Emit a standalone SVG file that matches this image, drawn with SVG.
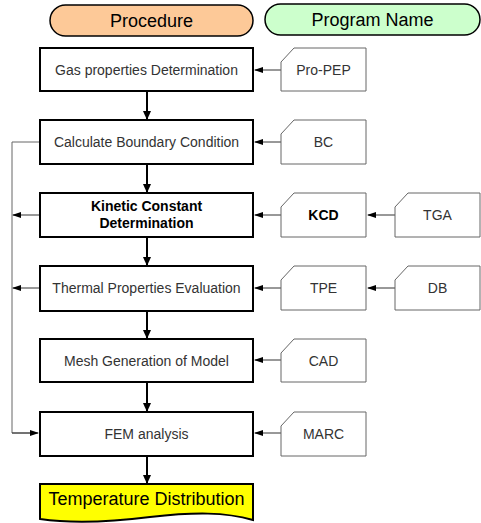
<svg xmlns="http://www.w3.org/2000/svg" width="481" height="523" viewBox="0 0 481 523">
<style>
.box{fill:#fff;stroke:#000;stroke-width:2}
.card{fill:#fff;stroke:#666;stroke-width:1}
.t{font-family:"Liberation Sans",Arial,sans-serif;font-size:14px;fill:#333;text-anchor:middle}
.b{font-weight:bold;fill:#000}
.h{font-family:"Liberation Sans",Arial,sans-serif;font-size:18px;fill:#000;text-anchor:middle}
.down{stroke:#000;stroke-width:2;fill:none;marker-end:url(#ab)}
.side{stroke:#333;stroke-width:1;fill:none;marker-end:url(#as)}
.fb{stroke:#666;stroke-width:1;fill:none}
</style>
<defs>
<marker id="ab" markerWidth="10" markerHeight="10" refX="8" refY="5" orient="auto" markerUnits="userSpaceOnUse"><path d="M0,1 L9,5 L0,9 Z" fill="#000"/></marker>
<marker id="as" markerWidth="10" markerHeight="10" refX="8" refY="4" orient="auto" markerUnits="userSpaceOnUse"><path d="M0,1 L9,4 L0,7 Z" fill="#000"/></marker>
</defs>
<rect width="481" height="523" fill="#fff"/>

<g id="hdr-procedure">
<rect x="50" y="5" width="203" height="31" rx="15.5" fill="#fdc998" stroke="#000" stroke-width="1.5"/>
<text class="h" x="151.5" y="26.5">Procedure</text>
</g>
<g id="hdr-program">
<rect x="265" y="4" width="215" height="31" rx="15.5" fill="#ccffcc" stroke="#000" stroke-width="1.5"/>
<text class="h" x="372.5" y="25.5">Program Name</text>
</g>

<g id="connectors">
<path class="down" d="M147,92 V119"/>
<path class="down" d="M147,164 V192"/>
<path class="down" d="M147,238 V265"/>
<path class="down" d="M147,312 V338"/>
<path class="down" d="M147,383 V411"/>
<path class="down" d="M147,457 V483"/>
<path class="side" d="M281,70 H255"/>
<path class="side" d="M281,142 H255"/>
<path class="side" d="M281,215 H255"/>
<path class="side" d="M395,215 H368"/>
<path class="side" d="M281,288 H255"/>
<path class="side" d="M395,288 H368"/>
<path class="side" d="M281,360 H255"/>
<path class="side" d="M281,433 H255"/>
<path class="fb" d="M40,142 H12 V433 H30"/>
<path class="side" d="M12,433 H38"/>
<path class="side" d="M40,215 H13"/>
<path class="side" d="M40,288 H13"/>
</g>

<g id="gas">
<rect class="box" x="40" y="48" width="213" height="43"/>
<text class="t" x="146.5" y="74.5">Gas properties Determination</text>
</g>
<g id="bc-step">
<rect class="box" x="40" y="120" width="213" height="44"/>
<text class="t" x="146.5" y="147">Calculate Boundary Condition</text>
</g>
<g id="kcd-step">
<rect class="box" x="40" y="193" width="213" height="44"/>
<text class="t b" x="146.5" y="211">Kinetic Constant</text>
<text class="t b" x="146.5" y="228">Determination</text>
</g>
<g id="tpe-step">
<rect class="box" x="40" y="266" width="213" height="45"/>
<text class="t" x="146.5" y="293">Thermal Properties Evaluation</text>
</g>
<g id="mesh">
<rect class="box" x="40" y="339" width="213" height="43"/>
<text class="t" x="146.5" y="365.5">Mesh Generation of Model</text>
</g>
<g id="fem">
<rect class="box" x="40" y="412" width="213" height="44"/>
<text class="t" x="146.5" y="439">FEM analysis</text>
</g>
<g id="result">
<path d="M40,484 H253 V520 C225,512 195,512 150,517 C110,522 75,524 40,519 Z" fill="#ffff00" stroke="#000" stroke-width="2"/>
<text class="h" x="146.5" y="505">Temperature Distribution</text>
</g>

<g id="pro-pep">
<path class="card" d="M294,48 H366 V91 H281 V62 Z"/>
<text class="t" x="323.5" y="75">Pro-PEP</text>
</g>
<g id="bc">
<path class="card" d="M294,120 H366 V164 H281 V134 Z"/>
<text class="t" x="323.5" y="147">BC</text>
</g>
<g id="kcd">
<path class="card" d="M294,193 H366 V237 H281 V207 Z"/>
<text class="t b" x="323.5" y="220">KCD</text>
</g>
<g id="tga">
<path class="card" d="M408,193 H480 V237 H395 V207 Z"/>
<text class="t" x="437.5" y="220">TGA</text>
</g>
<g id="tpe">
<path class="card" d="M294,266 H366 V310 H281 V280 Z"/>
<text class="t" x="323.5" y="293">TPE</text>
</g>
<g id="db">
<path class="card" d="M408,266 H480 V310 H395 V280 Z"/>
<text class="t" x="437.5" y="293">DB</text>
</g>
<g id="cad">
<path class="card" d="M294,339 H366 V382 H281 V353 Z"/>
<text class="t" x="323.5" y="365.5">CAD</text>
</g>
<g id="marc">
<path class="card" d="M294,412 H366 V456 H281 V426 Z"/>
<text class="t" x="323.5" y="439">MARC</text>
</g>
</svg>
